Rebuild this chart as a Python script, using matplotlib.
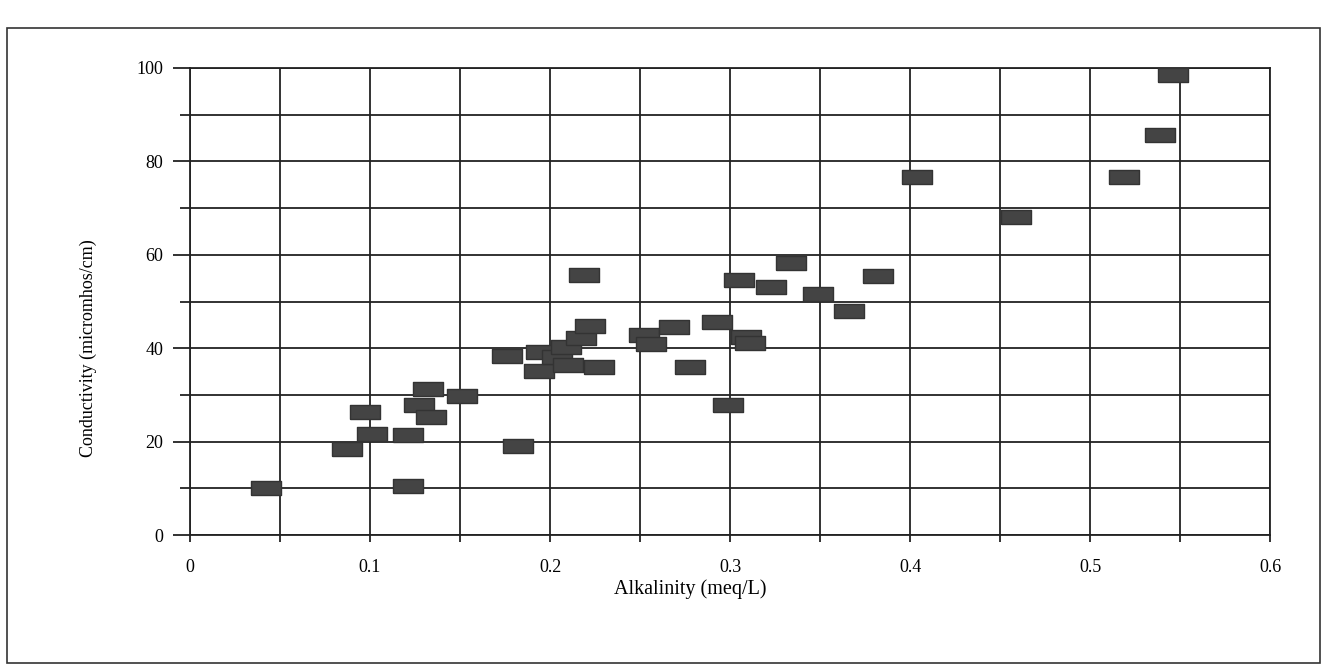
import numpy as np
import matplotlib.pyplot as plt
from matplotlib.patches import Rectangle

alkalinity = [0.042, 0.087, 0.097, 0.101, 0.121, 0.121, 0.127, 0.132, 0.134, 0.151,
              0.176, 0.182, 0.194, 0.195, 0.204, 0.209, 0.210, 0.217, 0.219, 0.222,
              0.227, 0.252, 0.256, 0.269, 0.278, 0.293, 0.299, 0.305, 0.309, 0.311,
              0.323, 0.334, 0.349, 0.366, 0.382, 0.404, 0.459, 0.519, 0.539, 0.546]
conductivity = [10.1, 18.5, 26.4, 21.7, 21.4, 10.4, 27.8, 31.2, 25.2, 29.8,
                38.3, 19.1, 35.2, 39.1, 38.2, 40.3, 36.4, 42.2, 55.7, 44.8,
                35.9, 42.9, 40.9, 44.5, 35.9, 45.7, 27.8, 54.7, 42.4, 41.1,
                53.1, 58.2, 51.5, 47.9, 55.4, 76.6, 68.1, 76.7, 85.6, 98.5]

plt.rcParams['font.family'] = ['Liberation Serif', 'DejaVu Serif']

fig = plt.figure(figsize=(13.27, 6.71), dpi=100)
fig.patches.append(Rectangle((7 / 1327, 1 - 663 / 671), 1313 / 1327, 635 / 671,
                             transform=fig.transFigure, fill=False,
                             edgecolor='#333333', linewidth=1.2))

ax = fig.add_axes([190 / 1327, 1 - 535 / 671, 1080 / 1327, 467 / 671])

bar = [(-1, -0.45), (1, -0.45), (1, 0.45), (-1, 0.45), (-1, -0.45)]
ax.plot(alkalinity, conductivity, linestyle='none', marker=bar, markersize=21,
        color='#444444', markeredgecolor='#333333', zorder=3)

ax.set_xlim(0, 0.6)
ax.set_ylim(0, 100)
ax.set_xticks(np.arange(0, 0.61, 0.1))
ax.set_xticks(np.arange(0.05, 0.6, 0.1), minor=True)
ax.set_xticklabels(['0', '0.1', '0.2', '0.3', '0.4', '0.5', '0.6'])
ax.set_yticks(np.arange(0, 101, 20))
ax.set_yticks(np.arange(10, 100, 20), minor=True)
ax.grid(True, which='both', color='#222222', linewidth=1.3)
ax.tick_params(which='both', direction='out', width=1.3, color='#222222', labelsize=13)
ax.tick_params(axis='y', which='major', length=12, pad=7)
ax.tick_params(axis='y', which='minor', length=7)
ax.tick_params(axis='x', which='both', length=5, pad=12)
for s in ax.spines.values():
    s.set_color('#222222')
    s.set_linewidth(1.3)

ax.set_xlabel('Alkalinity (meq/L)', fontsize=14.5)
ax.set_ylabel('Conductivity (micromhos/cm)', fontsize=13)
ax.xaxis.set_label_coords(0.463, -0.095)
ax.yaxis.set_label_coords(-0.086, 0.40)

fig.savefig('out.png', dpi=100)
